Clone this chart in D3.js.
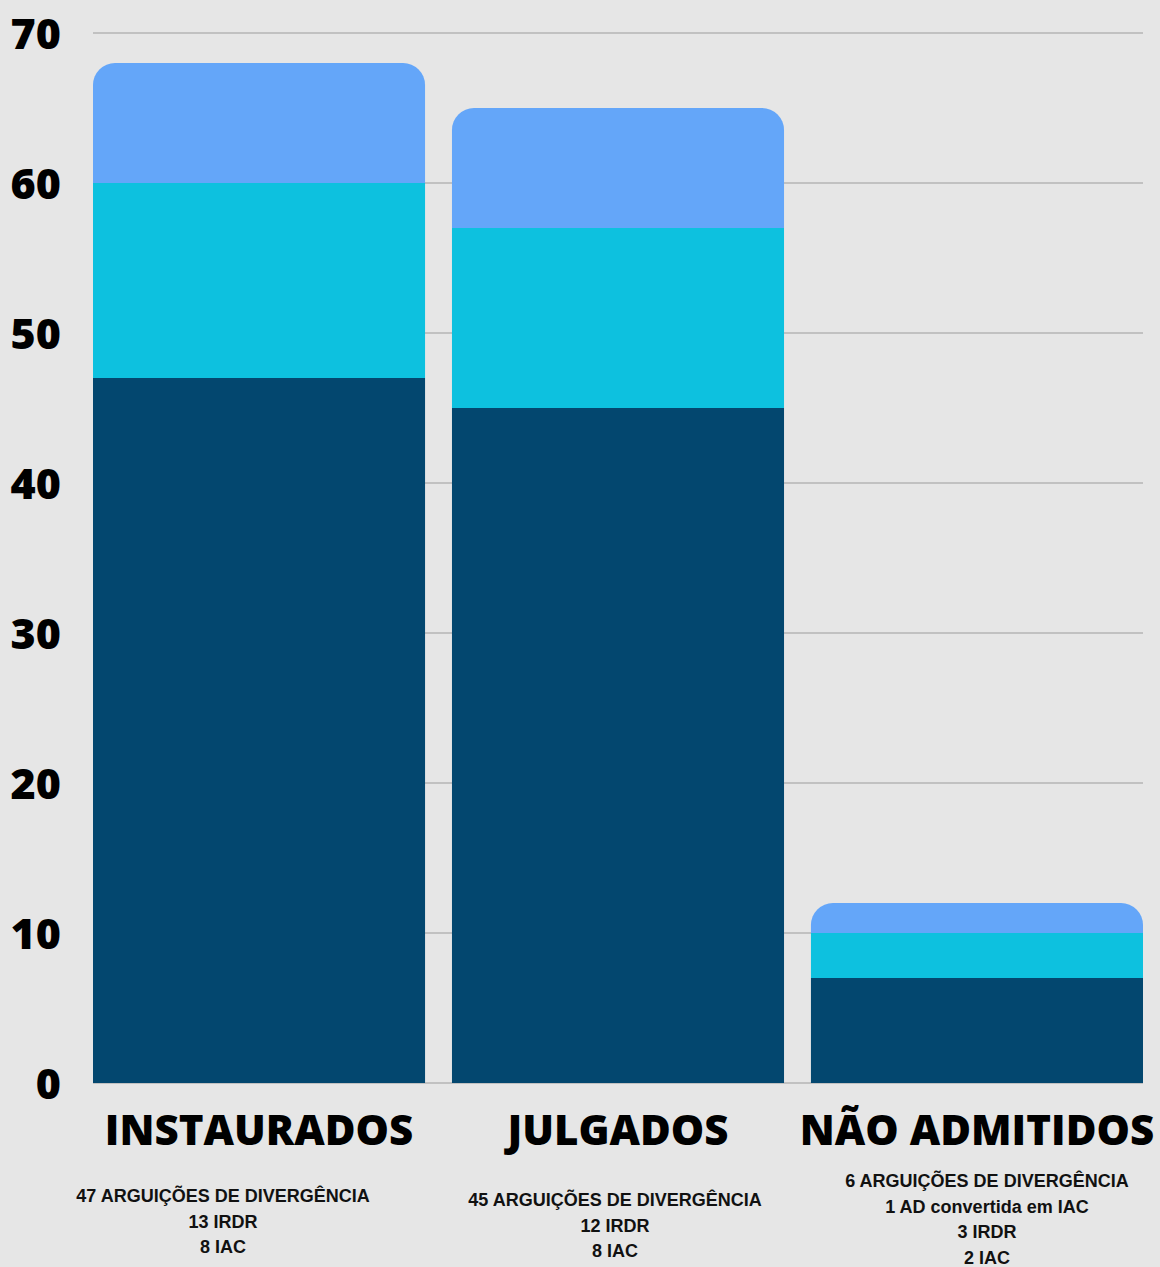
<!DOCTYPE html>
<html>
<head>
<meta charset="utf-8">
<script src="https://cdn.jsdelivr.net/npm/d3@7"></script>
<style>
  html, body { margin: 0; padding: 0; background: #e6e6e6; }
  svg { display: block; }
</style>
</head>
<body>
<svg id="chart"></svg>
<script>
// chart data
var categories = ["INSTAURADOS", "JULGADOS", "NÃO ADMITIDOS"];
var arguicoes = [47, 45, 7];
var irdr = [13, 12, 3];
var iac = [8, 8, 2];
var yTicks = [0, 10, 20, 30, 40, 50, 60, 70];
var notes = [
    ["47 ARGUIÇÕES DE DIVERGÊNCIA", "13 IRDR", "8 IAC"],
    ["45 ARGUIÇÕES DE DIVERGÊNCIA", "12 IRDR", "8 IAC"],
    ["6 ARGUIÇÕES DE DIVERGÊNCIA", "1 AD convertida em IAC", "3 IRDR", "2 IAC"]
];

// layout
var width = 1160;
var height = 1267;
var margin = {top: 33, right: 17, bottom: 184, left: 93};
var w = width - margin.left - margin.right;
var h = height - margin.top - margin.bottom;
var colors = ["#03476f", "#0dc1df", "#64a6f9"];
var noteShift = [-36, -3, 10];
var noteTop = [1202, 1206, 1187];
var radius = 22;

var svg = d3.select("#chart")
    .attr("width", width)
    .attr("height", height);

svg.append("rect")
    .attr("width", width)
    .attr("height", height)
    .attr("fill", "#e6e6e6");

var chart = svg.append("g")
    .attr("transform", "translate(" + margin.left + "," + margin.top + ")");

var x = d3.scaleBand()
    .domain(categories)
    .range([0, w])
    .paddingInner(0.075)
    .paddingOuter(0);

var y = d3.scaleLinear()
    .domain([0, 70])
    .range([h, 0]);

// gridlines
chart.selectAll(".grid")
    .data(yTicks)
    .enter().append("line")
    .attr("x1", 0)
    .attr("x2", w)
    .attr("y1", function(d) { return y(d); })
    .attr("y2", function(d) { return y(d); })
    .attr("stroke", "#b5b5b5")
    .attr("stroke-width", 1.5);

// y axis labels
var yAxis = d3.axisLeft(y).tickValues(yTicks).tickSize(0).tickPadding(32);
var yg = chart.append("g").call(yAxis);
yg.select(".domain").remove();
yg.selectAll("text")
    .attr("fill", "#000")
    .attr("dy", "0.36em")
    .style("font-family", "'Open Sans', sans-serif")
    .style("font-weight", 800)
    .style("font-size", "43px");

// stacked bars
var rows = categories.map(function(c, i) {
    return {cat: c, ad: arguicoes[i], irdr: irdr[i], iac: iac[i]};
});
var stack = d3.stack().keys(["ad", "irdr", "iac"]);
var series = stack(rows);

function barPath(x0, y0, y1, bw, round) {
    var p = d3.path();
    if (!round) {
        p.rect(x0, y1, bw, y0 - y1);
        return p.toString();
    }
    var r = Math.min(radius, y0 - y1);
    p.moveTo(x0, y0);
    p.lineTo(x0, y1 + r);
    p.arcTo(x0, y1, x0 + r, y1, r);
    p.lineTo(x0 + bw - r, y1);
    p.arcTo(x0 + bw, y1, x0 + bw, y1 + r, r);
    p.lineTo(x0 + bw, y0);
    p.closePath();
    return p.toString();
}

chart.selectAll(".layer")
    .data(series)
    .enter().append("g")
    .attr("fill", function(d, i) { return colors[i]; })
    .each(function(s, si) {
        d3.select(this).selectAll("path")
            .data(s)
            .enter().append("path")
            .attr("d", function(d) {
                return barPath(x(d.data.cat), y(d[0]), y(d[1]), x.bandwidth(), si === series.length - 1);
            });
    });

// category labels
chart.selectAll(".cat")
    .data(categories)
    .enter().append("text")
    .attr("x", function(d) { return x(d) + x.bandwidth() / 2; })
    .attr("y", 1145 - margin.top)
    .attr("text-anchor", "middle")
    .style("font-family", "'Open Sans', sans-serif")
    .style("font-weight", 800)
    .style("font-size", "42px")
    .attr("fill", "#000")
    .text(function(d) { return d; });

// notes under each category
categories.forEach(function(c, i) {
    chart.append("g")
        .selectAll("text")
        .data(notes[i])
        .enter().append("text")
        .attr("x", x(c) + x.bandwidth() / 2 + noteShift[i])
        .attr("y", function(d, j) { return noteTop[i] - margin.top + j * 25.7; })
        .attr("text-anchor", "middle")
        .style("font-family", "'Liberation Sans', Arial, sans-serif")
        .style("font-weight", 700)
        .style("font-size", "18px")
        .attr("fill", "#111")
        .text(function(d) { return d; });
});
</script>
</body>
</html>
